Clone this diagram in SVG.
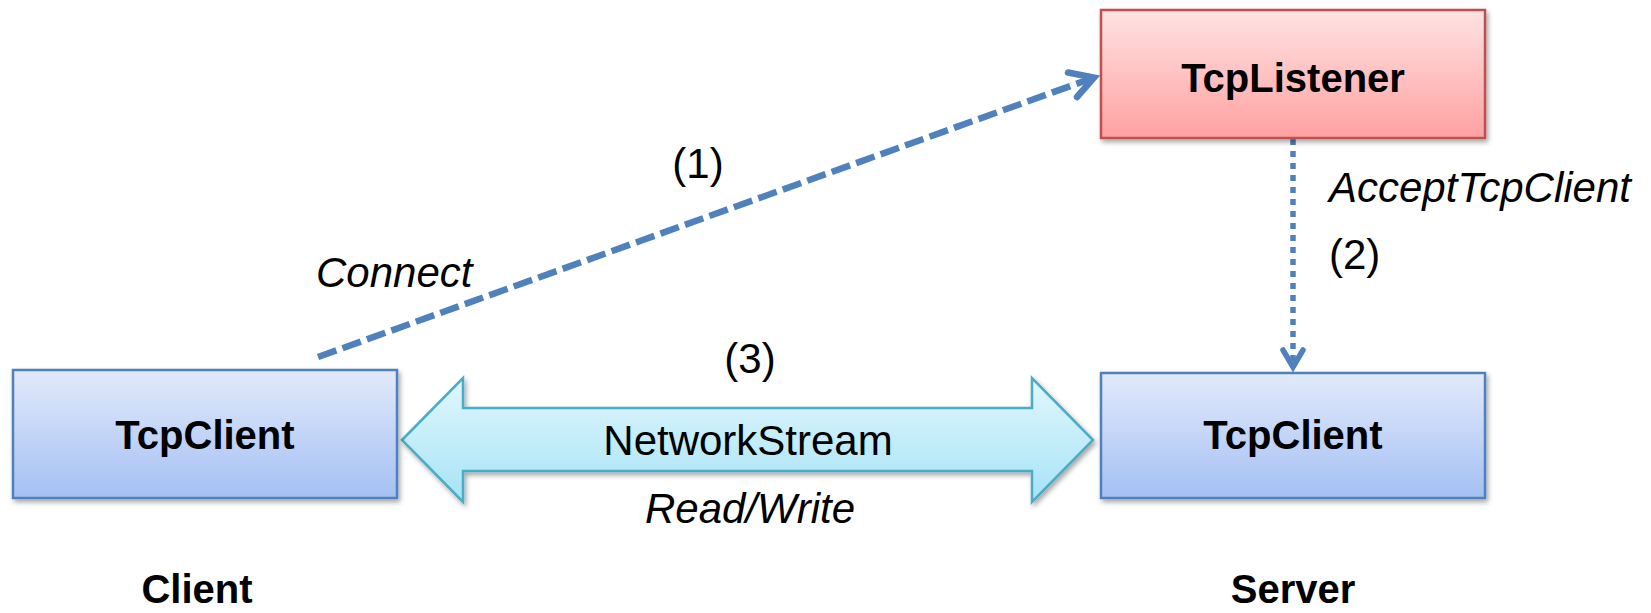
<svg xmlns="http://www.w3.org/2000/svg" width="1651" height="613" viewBox="0 0 1651 613">
<defs>
<linearGradient id="gBlue" x1="0" y1="0" x2="0" y2="1">
<stop offset="0" stop-color="#E2EAFB"/>
<stop offset="1" stop-color="#A4C0F4"/>
</linearGradient>
<linearGradient id="gRed" x1="0" y1="0" x2="0" y2="1">
<stop offset="0" stop-color="#FFE3E3"/>
<stop offset="1" stop-color="#FFA1A1"/>
</linearGradient>
<linearGradient id="gCyan" x1="0" y1="0" x2="0" y2="1">
<stop offset="0" stop-color="#E1F7FE"/>
<stop offset="1" stop-color="#A6E3F6"/>
</linearGradient>
<filter id="shadow" x="-10%" y="-10%" width="120%" height="130%">
<feDropShadow dx="2" dy="3" stdDeviation="2.5" flood-color="#000" flood-opacity="0.35"/>
</filter>
</defs>
<style>
.box{stroke-width:2.5;filter:url(#shadow)}
.blue{fill:url(#gBlue);stroke:#4F81BD}
.red{fill:url(#gRed);stroke:#C0504D}
.lbl{font-family:"Liberation Sans",Arial,sans-serif;font-weight:bold;font-size:40px;fill:#000;text-anchor:middle}
.txt{font-family:"Liberation Sans",Arial,sans-serif;font-size:42px;fill:#000}
.it{font-style:italic}
.mid{text-anchor:middle}
.conn{fill:none;stroke:#4F81BD}
</style>
<g id="connectors">
<line class="conn" x1="318" y1="357" x2="1094" y2="77.5" stroke-width="6.5" stroke-dasharray="19.5 6.5"/>
<polyline class="conn" points="1068,72.5 1094,77.5 1077,97" stroke-width="6.5" stroke-linecap="round" stroke-linejoin="miter"/>
<line class="conn" x1="1293" y1="139" x2="1293" y2="362" stroke-width="5.5" stroke-dasharray="6 6"/>
<polyline class="conn" points="1283,350 1293,367 1303,350" stroke-width="5.5" stroke-linecap="round" stroke-linejoin="miter"/>
<path id="stream" d="M402,440 L463,378 L463,408 L1032,408 L1032,378 L1093,440 L1032,502 L1032,471 L463,471 L463,502 Z" fill="url(#gCyan)" stroke="#4BACC6" stroke-width="2.5" stroke-linejoin="miter" filter="url(#shadow)"/>
<text class="txt mid" x="748" y="455">NetworkStream</text>
<text class="txt mid" x="698" y="178">(1)</text>
<text class="txt it" x="316" y="287">Connect</text>
<text class="txt it" x="1329" y="202">AcceptTcpClient</text>
<text class="txt" x="1329" y="269">(2)</text>
<text class="txt mid" x="750" y="373">(3)</text>
<text class="txt it mid" x="750" y="523">Read/Write</text>
</g>
<g id="listener">
<rect class="box red" x="1101" y="10" width="384" height="128"/>
<text class="lbl" x="1293" y="92">TcpListener</text>
</g>
<g id="clientTcp">
<rect class="box blue" x="13" y="370" width="384" height="128"/>
<text class="lbl" x="205" y="449">TcpClient</text>
</g>
<g id="serverTcp">
<rect class="box blue" x="1101" y="373" width="384" height="125"/>
<text class="lbl" x="1293" y="449">TcpClient</text>
</g>
<g id="captions">
<text class="lbl" x="197" y="603">Client</text>
<text class="lbl" x="1293" y="603">Server</text>
</g>
</svg>
